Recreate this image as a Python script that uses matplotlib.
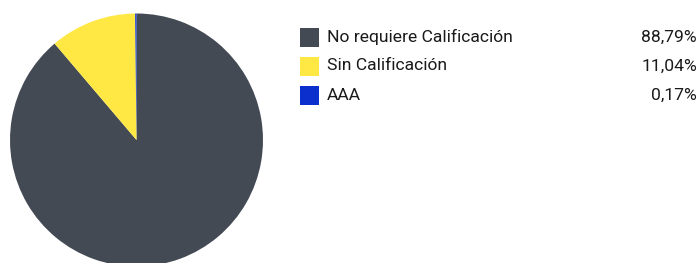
import matplotlib
matplotlib.use("Agg")
import matplotlib.pyplot as plt
from matplotlib.patches import Rectangle

labels = ["No requiere Calificación", "Sin Calificación", "AAA"]
values = [88.79, 11.04, 0.17]
value_labels = ["88,79%", "11,04%", "0,17%"]
colors = ["#434a54", "#ffe843", "#0a2fcc"]

W, H = 700, 263
fig = plt.figure(figsize=(W/100, H/100), dpi=100)
fig.patch.set_facecolor("white")

cx, cy, r = 136.5, 140, 126.5
ax = fig.add_axes([(cx - r)/W, (H - cy - r)/H, 2*r/W, 2*r/H])
ax.pie(values, colors=colors, startangle=90, counterclock=False, radius=1,
       wedgeprops=dict(linewidth=0))
ax.set_xlim(-1, 1)
ax.set_ylim(-1, 1)
ax.set_aspect("equal")
ax.axis("off")

font = ["Roboto", "DejaVu Sans"]
row_y = [37, 66, 95]
for lab, vl, col, y in zip(labels, value_labels, colors, row_y):
    fig.patches.append(Rectangle((300/W, (H - y - 9.5)/H), 19/W, 19/H,
                                 transform=fig.transFigure, facecolor=col,
                                 edgecolor="none"))
    fig.text(327/W, (H - y)/H, lab, ha="left", va="center", fontsize=12.6,
             family=font, color="#1a1a1a")
    fig.text(697/W, (H - y)/H, vl, ha="right", va="center", fontsize=12.6,
             family=font, color="#1a1a1a")

fig.savefig("out.png", dpi=100)
